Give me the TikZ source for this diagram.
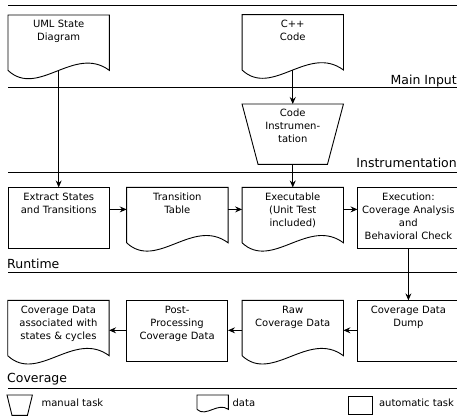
\documentclass[tikz,border=0pt]{standalone}
\usepackage{fontspec}
\setmainfont{DejaVu Sans}
\usepackage{tikz}
\usetikzlibrary{arrows.meta,positioning,calc}

% outline of a data node: straight top and sides, wavy bottom
\newcommand{\docshape}[2][1]{%
  \draw[outline] (#2.south west) -- (#2.north west) -- (#2.north east) -- (#2.south east)
    .. controls +(-35*#1,26*#1) and +(30*#1,-28*#1) .. (#2.south west);}
% outline of a manual task: trapezoid, narrow end down
\newcommand{\manualshape}[2][16pt]{%
  \draw[outline] (#2.north west) -- (#2.north east) -- ([xshift=-#1]#2.south east)
    -- ([xshift=#1]#2.south west) -- cycle;}

\tikzset{
  outline/.style={line width=0.9pt},
  lane/.style={font=\fontsize{12.5}{15}\selectfont, inner sep=0pt},
  small/.style={font=\fontsize{10}{12}\selectfont, inner sep=0pt},
  box/.style={rectangle, minimum width=101pt, text width=99pt, inner xsep=1pt,
    inner ysep=3pt, align=center, font=\fontsize{10}{13}\selectfont, text height=9.5pt},
  task/.style={box, draw, outline, text depth=45.5pt},
  data/.style={box, text depth=39.5pt},
  manual/.style={box, text depth=44.5pt},
  flow/.style={-{Stealth[length=7pt,width=6pt,inset=2.5pt]}, line width=0.8pt},
}

\begin{document}
\begin{tikzpicture}[x=1pt,y=1pt]
  \useasboundingbox (0,0) rectangle (457,-416);

  % swim lanes
  \foreach \y in {5,87,172,272,388}
    \draw[line width=0.8pt] (8,-\y) -- (457,-\y);
  \node[lane, anchor=base east] (lmain) at (457,-84) {Main Input};
  \node[lane, anchor=base east] (linstr) at (457,-167) {Instrumentation};
  \node[lane, anchor=base west] (lrun) at (7,-268) {Runtime};
  \node[lane, anchor=base west] (lcov) at (7,-382) {Coverage};

  % main input
  \node[data, anchor=north west] (uml) at (8,-15) {UML State\\Diagram};
  % runtime row
  \node[task] (extract) [below=117pt of uml] {Extract States\\and Transitions};
  \node[data] (trans) [right=17pt of extract.north east, anchor=north west] {Transition\\Table};
  \node[data] (exe) [right=14pt of trans.north east, anchor=north west] {Executable\\(Unit Test\\included)};
  \node[task] (exec) [right=14pt of exe.north east, anchor=north west] {Execution:\\Coverage Analysis\\and\\Behavioral Check};
  % instrumentation
  \node[manual] (instr) [above=23pt of exe] {Code\\Instrumen-\\tation};
  \node[data] (cpp) [above=34pt of instr] {C++\\Code};
  % coverage row
  \node[task] (dump) [below=51pt of exec] {Coverage Data\\Dump};
  \node[data] (raw) [left=14pt of dump.north west, anchor=north east] {Raw\\Coverage Data};
  \node[task] (post) [left=14pt of raw.north west, anchor=north east] {Post-\\Processing\\Coverage Data};
  \node[data] (cov) [left=17pt of post.north west, anchor=north east] {Coverage Data\\associated with\\states \& cycles};

  \docshape{uml}
  \docshape{cpp}
  \docshape{trans}
  \docshape{exe}
  \docshape{raw}
  \docshape{cov}
  \manualshape{instr}

  \path[flow]
    (uml.south) edge (extract.north)
    (cpp.south) edge (instr.north)
    (instr.south) edge (exe.north)
    ([yshift=-22pt]extract.north east) edge ([yshift=-22pt]trans.north west)
    ([yshift=-22pt]trans.north east) edge ([yshift=-22pt]exe.north west)
    ([yshift=-22pt]exe.north east) edge ([yshift=-22pt]exec.north west)
    (exec.south) edge (dump.north)
    ([yshift=-30pt]dump.north west) edge ([yshift=-30pt]raw.north east)
    ([yshift=-30pt]raw.north west) edge ([yshift=-30pt]post.north east)
    ([yshift=-30pt]post.north west) edge ([yshift=-30pt]cov.north east);

  % legend
  \node[minimum width=25pt, minimum height=20pt, inner sep=0pt, anchor=north west] (legman) at (7,-395) {};
  \manualshape[5pt]{legman}
  \node[small, anchor=base west] (legmantext) at ([xshift=9pt,yshift=-11pt]legman.north east) {manual task};
  \node[minimum width=31pt, minimum height=14pt, inner sep=0pt, anchor=north west] (legdata) at (197,-395) {};
  \docshape[0.3]{legdata}
  \node[small, anchor=base west] (legdatatext) at ([xshift=4pt,yshift=-11pt]legdata.north east) {data};
  \node[draw, outline, minimum width=24pt, minimum height=18pt, inner sep=0pt, anchor=north west] (legtask) at (348,-396) {};
  \node[small, anchor=base west] (legtasktext) at ([xshift=6pt,yshift=-10pt]legtask.north east) {automatic task};
\end{tikzpicture}
\end{document}
